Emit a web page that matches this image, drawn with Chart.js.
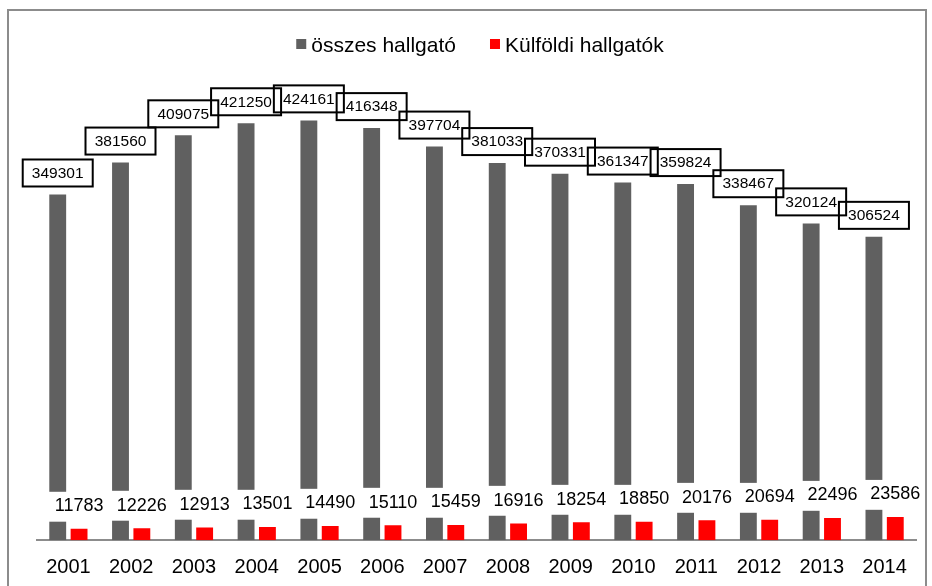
<!DOCTYPE html>
<html>
<head>
<meta charset="utf-8">
<script src="https://cdn.jsdelivr.net/npm/chart.js@4.4.1/dist/chart.umd.min.js"></script>
<style>
  html, body { margin: 0; padding: 0; background: #fff; }
  body { width: 932px; height: 586px; position: relative; overflow: hidden; }
  .frame { position: absolute; left: 7px; top: 9px; width: 916px; height: 620px; border: 2px solid #8c8c8c; }
  #chart { position: absolute; left: 0; top: 0; }
</style>
</head>
<body>
<div class="frame"></div>
<canvas id="chart" width="932" height="586"></canvas>
<script>
const years = ['2001', '2002', '2003', '2004', '2005', '2006', '2007', '2008', '2009', '2010', '2011', '2012', '2013', '2014'];
const osszesHallgato = [349301, 381560, 409075, 421250, 424161, 416348, 397704, 381033, 370331, 361347, 359824, 338467, 320124, 306524];
const kulfoldiHallgatok = [11783, 12226, 12913, 13501, 14490, 15110, 15459, 16916, 18254, 18850, 20176, 20694, 22496, 23586];
// where the grey column is cut (axis units)
const breakStart = [18800, 19800, 20800, 20800, 21800, 22800, 22800, 24800, 25800, 25800, 27800, 27800, 29800, 30800];
const breakSize = 30200;

const FONT = '"Liberation Sans", Arial, sans-serif';

const brokenBars = {
    id: 'brokenBars',
    afterDatasetsDraw(chart) {
        const ctx = chart.ctx;
        const y = chart.scales.y;
        const grey = chart.getDatasetMeta(0).data;
        const red = chart.getDatasetMeta(1).data;
        ctx.save();

        // white gap in the grey columns
        ctx.fillStyle = '#fff';
        grey.forEach((bar, i) => {
            const top = y.getPixelForValue(breakStart[i] + breakSize);
            const bottom = y.getPixelForValue(breakStart[i]);
            ctx.fillRect(bar.x - bar.width / 2 - 1, top, bar.width + 2, bottom - top);
        });

        // labels of the small values
        ctx.fillStyle = '#000';
        ctx.font = '18px ' + FONT;
        ctx.textAlign = 'center';
        ctx.textBaseline = 'middle';
        red.forEach((bar, i) => {
            ctx.fillText(kulfoldiHallgatok[i], bar.x, bar.y - 22.5);
        });

        // boxed labels of the totals
        ctx.font = '15.5px ' + FONT;
        ctx.strokeStyle = '#000';
        ctx.lineWidth = 2;
        grey.forEach((bar, i) => {
            const bw = 70, bh = 27;
            const bottom = bar.y - 8;
            ctx.strokeRect(bar.x - bw / 2, bottom - bh, bw, bh);
            ctx.fillText(osszesHallgato[i], bar.x, bottom - bh / 2 + 0.5);
        });

        // legend
        const items = chart.data.datasets.map(d => ({ text: d.label, color: d.backgroundColor }));
        ctx.font = '21px ' + FONT;
        ctx.textAlign = 'left';
        ctx.textBaseline = 'alphabetic';
        const widths = items.map(it => 15 + ctx.measureText(it.text).width);
        const total = widths.reduce((a, b) => a + b, 0) + 34;
        let x = 480 - total / 2;
        items.forEach((it, i) => {
            ctx.fillStyle = it.color;
            ctx.fillRect(x, 39, 10, 10);
            ctx.fillStyle = '#000';
            ctx.fillText(it.text, x + 15, 51.7);
            x += widths[i] + 34;
        });
        ctx.restore();
    }
};

new Chart(document.getElementById('chart'), {
    type: 'bar',
    data: {
        labels: years,
        datasets: [
            {
                label: 'összes hallgató',
                data: osszesHallgato,
                backgroundColor: '#606060',
                categoryPercentage: 0.68,
                barPercentage: 0.79
            },
            {
                label: 'Külföldi hallgatók',
                data: kulfoldiHallgatok,
                backgroundColor: '#ff0000',
                categoryPercentage: 0.68,
                barPercentage: 0.79
            }
        ]
    },
    options: {
        responsive: false,
        animation: false,
        layout: { padding: { top: 45.3, left: 37, right: 16, bottom: 0 } },
        plugins: {
            legend: { display: false },
            tooltip: { enabled: false }
        },
        scales: {
            x: {
                grid: { display: false },
                border: { display: true, color: '#8c8c8c', width: 2 },
                ticks: { color: '#000', font: { family: FONT, size: 20 }, padding: 7 },
                afterFit(scale) { scale.height = 45.7; }
            },
            y: {
                display: false,
                min: 0,
                max: 500000
            }
        }
    },
    plugins: [brokenBars]
});
</script>
</body>
</html>
